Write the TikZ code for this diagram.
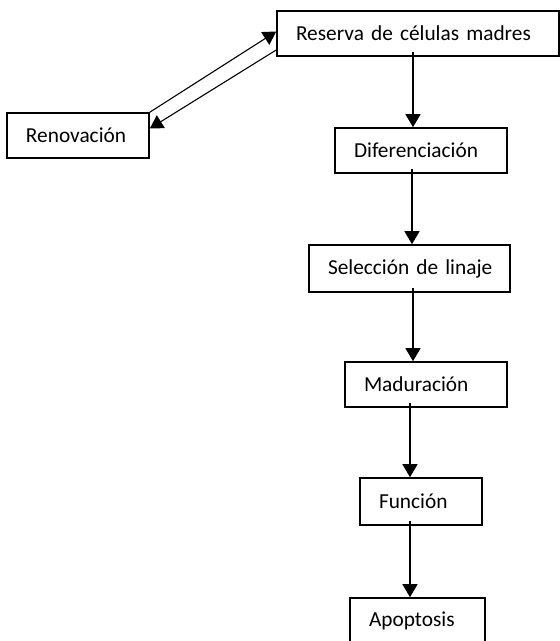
\documentclass[tikz,border=0pt]{standalone}
\usepackage{fontspec}
\setmainfont{Carlito}
\usetikzlibrary{arrows.meta}
\tikzset{
  caja/.style={draw, line width=1.6pt, inner xsep=19pt, inner ysep=0pt, minimum height=45pt, align=left, font=\fontsize{21.33}{26}\selectfont},
  flecha/.style={line width=1.1pt, -{Triangle[width=15pt,length=13pt]}}
}
\begin{document}
\begin{tikzpicture}[x=1pt,y=-1pt]
  \useasboundingbox (0,0) rectangle (560,641);
  % cajas
  \node[caja, text width=244pt] (res) at (418,33.5) {Reserva de células madres};
  \node[caja, text width=104pt] (ren) at (78,135.5) {Renovación};
  \node[caja, text width=134pt] (dif) at (421,150.5) {Diferenciación};
  \node[caja, text width=163pt, minimum height=47pt] (sel) at (409.5,268.5) {\mbox{Selección de linaje}};
  \node[caja, text width=124pt] (mad) at (426,384.5) {Maduración};
  \node[caja, text width=84pt, minimum height=47pt] (fun) at (421,501.5) {Función};
  \node[caja, text width=97pt] (apo) at (417.5,620.5) {Apoptosis};

  % renovacion
  \draw[flecha] (ren.north east) -- ([yshift=2pt]res.west);
  \draw[flecha] ([yshift=-16.5pt]res.west) -- ([yshift=7pt]ren.east);

  % linaje
  \foreach \a/\b/\sa/\sb in {res/dif/-5/-8, dif/sel/-9/2.5, sel/mad/3.5/-13, mad/fun/-16/-11, fun/apo/-11/-7.5} {
    \draw[flecha] ([shift={(\sa,-5)}]\a.south) -- ([xshift=\sb pt]\b.north);
  }
\end{tikzpicture}
\end{document}
